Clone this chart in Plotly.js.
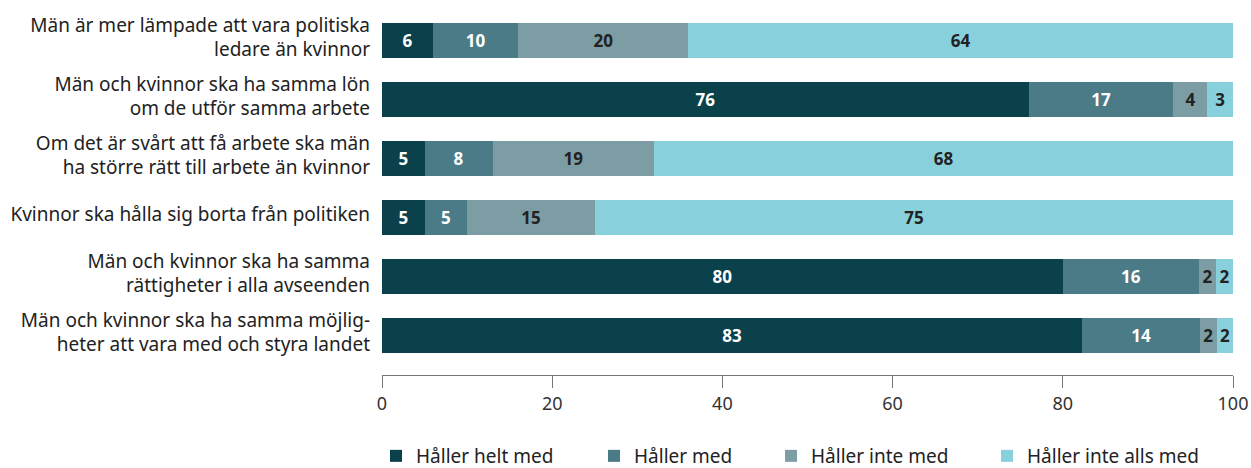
<!DOCTYPE html>
<html>
<head>
<meta charset="utf-8">
<script src="https://cdn.plot.ly/plotly-3.0.1.min.js"></script>
<style>html,body{margin:0;padding:0;background:#fff;}#chart{width:1251px;height:468px;}</style>
</head>
<body>
<div id="chart"></div>
<script>
const categories = [
  "Män är mer lämpade att vara politiska<br>ledare än kvinnor",
  "Män och kvinnor ska ha samma lön<br>om de utför samma arbete",
  "Om det är svårt att få arbete ska män<br>ha större rätt till arbete än kvinnor",
  "Kvinnor ska hålla sig borta från politiken",
  "Män och kvinnor ska ha samma<br>rättigheter i alla avseenden",
  "Män och kvinnor ska ha samma möjlig-<br>heter att vara med och styra landet"
];
const seriesNames = ["Håller helt med", "Håller med", "Håller inte med", "Håller inte alls med"];
// bar lengths (percent)
const helt = [6, 76, 5, 5, 80, 82.3];
const med = [10, 17, 8, 5, 16, 13.8];
const inte = [20, 4, 19, 15, 2, 2];
const inteAlls = [64, 3, 68, 75, 2, 1.9];
// printed value labels
const heltLabels = [6, 76, 5, 5, 80, 83];
const medLabels = [10, 17, 8, 5, 16, 14];
const inteLabels = [20, 4, 19, 15, 2, 2];
const inteAllsLabels = [64, 3, 68, 75, 2, 2];
const xTicks = [0, 20, 40, 60, 80, 100];

const colors = ["#0b414b", "#4a7b86", "#7c9da4", "#88d1dc"];
const textColors = ["#ffffff", "#ffffff", "#222222", "#222222"];
const allSeries = [helt, med, inte, inteAlls];
const allLabels = [heltLabels, medLabels, inteLabels, inteAllsLabels];
const legendIds = ["legend", "legend2", "legend3", "legend4"];
const legendTextStart = [416, 634, 811, 1027];
const FONT = "Noto Sans, sans-serif";
const W = 1251, H = 468;

const traces = allSeries.map((vals, i) => ({
  type: "bar",
  orientation: "h",
  name: seriesNames[i],
  legend: legendIds[i],
  x: vals,
  y: categories,
  marker: {color: colors[i], line: {width: 0}},
  text: allLabels[i].map(String),
  textposition: "inside",
  insidetextanchor: "middle",
  textangle: 0,
  constraintext: "none",
  textfont: {family: FONT, size: 17, color: textColors[i], weight: 700},
  hoverinfo: "x+name"
}));

const layout = {
  width: W, height: H,
  margin: {l: 382, r: 18, t: 11, b: 93},
  barmode: "stack",
  bargap: 0.4,
  paper_bgcolor: "#fff",
  plot_bgcolor: "#fff",
  font: {family: FONT, size: 18, color: "#222"},
  xaxis: {
    range: [0, 100],
    tickvals: xTicks,
    ticktext: xTicks.map(String),
    showgrid: false,
    zeroline: false,
    showline: true,
    linecolor: "#777",
    linewidth: 1,
    ticks: "outside",
    ticklen: 12,
    tickcolor: "#777",
    tickfont: {family: FONT, size: 18, color: "#333"}
  },
  yaxis: {
    type: "category",
    range: [5.67, -0.5],
    showgrid: false,
    zeroline: false,
    showline: false,
    ticks: "",
    ticklabelstandoff: 11,
    ticklabelshift: 3,
    tickfont: {family: FONT, size: 19, color: "#222"}
  },
  showlegend: true
};

legendIds.forEach((id, i) => {
  layout[id] = {
    orientation: "h",
    xref: "container", yref: "container",
    x: (legendTextStart[i] - 40) / W, xanchor: "left",
    y: (H - 456) / H, yanchor: "middle",
    font: {family: FONT, size: 19, color: "#222"},
    bgcolor: "rgba(0,0,0,0)",
    borderwidth: 0
  };
});

Plotly.newPlot("chart", traces, layout, {displayModeBar: false, staticPlot: true});
</script>
</body>
</html>
